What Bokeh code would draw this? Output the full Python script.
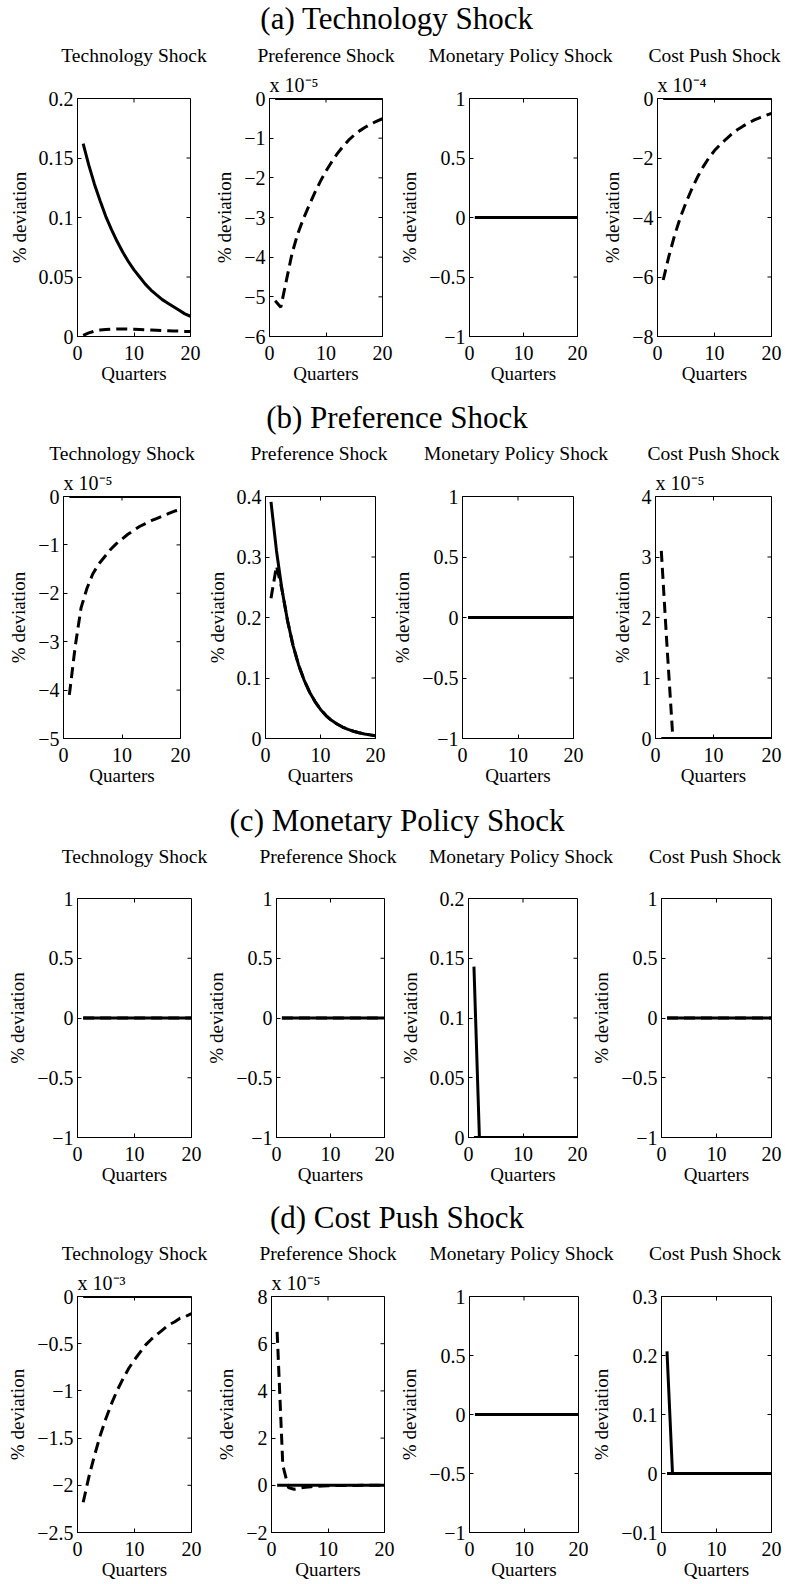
import math

from bokeh.plotting import figure
from bokeh.layouts import column, row
from bokeh.models import Range1d, FixedTicker, CustomJSTickFormatter, Label
from bokeh.embed import file_html
from bokeh.resources import INLINE

# ---------------------------------------------------------------- data
QUARTERS = [1, 2, 3, 4, 5, 6, 7, 8, 9, 10, 11, 12, 13, 14, 15, 16, 17, 18, 19, 20]
X_TICKS = [0, 10, 20]

SHOCK_NAMES = ["Technology Shock", "Preference Shock", "Monetary Policy Shock", "Cost Push Shock"]
SECTION_TITLES = ["(a) Technology Shock", "(b) Preference Shock",
                  "(c) Monetary Policy Shock", "(d) Cost Push Shock"]

FLAT = [0.0, 0.0, 0.0, 0.0, 0.0, 0.0, 0.0, 0.0, 0.0, 0.0,
        0.0, 0.0, 0.0, 0.0, 0.0, 0.0, 0.0, 0.0, 0.0, 0.0]

# (a) responses to a technology shock
a_tech_solid = [0.162, 0.144, 0.128, 0.114, 0.101, 0.090, 0.080, 0.071, 0.063, 0.056,
                0.050, 0.044, 0.039, 0.035, 0.031, 0.028, 0.025, 0.022, 0.019, 0.017]
a_tech_dashed = [0.0010, 0.0030, 0.0045, 0.0054, 0.0059, 0.0062, 0.0063, 0.0063, 0.0062, 0.0061,
                 0.0059, 0.0057, 0.0055, 0.0053, 0.0051, 0.0049, 0.0047, 0.0045, 0.0043, 0.0041]
a_pref_solid = FLAT
a_pref_dashed = [-5.10e-5, -5.26e-5, -4.58e-5, -3.90e-5, -3.41e-5, -3.03e-5, -2.70e-5, -2.38e-5,
                 -2.09e-5, -1.83e-5, -1.60e-5, -1.39e-5, -1.21e-5, -1.05e-5, -0.92e-5, -0.81e-5,
                 -0.72e-5, -0.64e-5, -0.57e-5, -0.51e-5]
a_mon_solid = FLAT
a_mon_dashed = FLAT
a_cost_solid = FLAT
a_cost_dashed = [-6.10e-4, -5.30e-4, -4.60e-4, -4.00e-4, -3.50e-4, -3.05e-4, -2.65e-4, -2.30e-4,
                 -2.00e-4, -1.75e-4, -1.55e-4, -1.37e-4, -1.20e-4, -1.05e-4, -0.93e-4, -0.82e-4,
                 -0.72e-4, -0.64e-4, -0.57e-4, -0.50e-4]

# (b) responses to a preference shock
b_tech_solid = FLAT
b_tech_dashed = [-4.10e-5, -3.10e-5, -2.30e-5, -1.90e-5, -1.60e-5, -1.40e-5, -1.25e-5, -1.10e-5,
                 -0.98e-5, -0.88e-5, -0.78e-5, -0.70e-5, -0.62e-5, -0.56e-5, -0.50e-5, -0.45e-5,
                 -0.40e-5, -0.35e-5, -0.30e-5, -0.27e-5]
b_pref_solid = [0.391, 0.310, 0.246, 0.195, 0.154, 0.122, 0.097, 0.077, 0.061, 0.048,
                0.038, 0.030, 0.024, 0.019, 0.015, 0.012, 0.0095, 0.0075, 0.0060, 0.0045]
b_pref_dashed = [0.232, 0.285, 0.246, 0.195, 0.154, 0.122, 0.097, 0.077, 0.061, 0.048,
                 0.038, 0.030, 0.024, 0.019, 0.015, 0.012, 0.0095, 0.0075, 0.0060, 0.0045]
b_mon_solid = FLAT
b_mon_dashed = FLAT
b_cost_solid = FLAT
b_cost_dashed = [3.10e-5, 1.50e-5, 0.0, 0.0, 0.0, 0.0, 0.0, 0.0, 0.0, 0.0,
                 0.0, 0.0, 0.0, 0.0, 0.0, 0.0, 0.0, 0.0, 0.0, 0.0]

# (c) responses to a monetary policy shock
c_tech_solid = FLAT
c_tech_dashed = FLAT
c_pref_solid = FLAT
c_pref_dashed = FLAT
c_mon_solid = [0.143, 0.0, 0.0, 0.0, 0.0, 0.0, 0.0, 0.0, 0.0, 0.0,
               0.0, 0.0, 0.0, 0.0, 0.0, 0.0, 0.0, 0.0, 0.0, 0.0]
c_mon_dashed = FLAT
c_cost_solid = FLAT
c_cost_dashed = FLAT

# (d) responses to a cost push shock
d_tech_solid = FLAT
d_tech_dashed = [-2.18e-3, -1.91e-3, -1.68e-3, -1.47e-3, -1.29e-3, -1.13e-3, -0.99e-3, -0.87e-3,
                 -0.76e-3, -0.67e-3, -0.59e-3, -0.51e-3, -0.45e-3, -0.40e-3, -0.35e-3, -0.30e-3,
                 -0.27e-3, -0.23e-3, -0.21e-3, -0.18e-3]
d_pref_solid = FLAT
d_pref_dashed = [6.50e-5, 0.85e-5, -0.10e-5, -0.17e-5, -0.12e-5, -0.08e-5, -0.06e-5, -0.04e-5,
                 -0.03e-5, -0.02e-5, -0.015e-5, -0.01e-5, -0.01e-5, -0.005e-5, -0.005e-5, 0.0,
                 0.0, 0.0, 0.0, 0.0]
d_mon_solid = FLAT
d_mon_dashed = FLAT
d_cost_solid = [0.207, 0.0, 0.0, 0.0, 0.0, 0.0, 0.0, 0.0, 0.0, 0.0,
                0.0, 0.0, 0.0, 0.0, 0.0, 0.0, 0.0, 0.0, 0.0, 0.0]
d_cost_dashed = FLAT

# y tick values (first and last give the axis limits) and the power of ten
# printed above each axis
UNIT_TICKS = [-1.0, -0.5, 0.0, 0.5, 1.0]
a_tech_yticks = [0.0, 0.05, 0.1, 0.15, 0.2]
a_pref_yticks = [-6e-5, -5e-5, -4e-5, -3e-5, -2e-5, -1e-5, 0.0]
a_cost_yticks = [-8e-4, -6e-4, -4e-4, -2e-4, 0.0]
b_tech_yticks = [-5e-5, -4e-5, -3e-5, -2e-5, -1e-5, 0.0]
b_pref_yticks = [0.0, 0.1, 0.2, 0.3, 0.4]
b_cost_yticks = [0.0, 1e-5, 2e-5, 3e-5, 4e-5]
c_mon_yticks = [0.0, 0.05, 0.1, 0.15, 0.2]
d_tech_yticks = [-2.5e-3, -2e-3, -1.5e-3, -1e-3, -0.5e-3, 0.0]
d_pref_yticks = [-2e-5, 0.0, 2e-5, 4e-5, 6e-5, 8e-5]
d_cost_yticks = [-0.1, 0.0, 0.1, 0.2, 0.3]

PANELS = [
    [(a_tech_solid, a_tech_dashed, a_tech_yticks, 0),
     (a_pref_solid, a_pref_dashed, a_pref_yticks, -5),
     (a_mon_solid, a_mon_dashed, UNIT_TICKS, 0),
     (a_cost_solid, a_cost_dashed, a_cost_yticks, -4)],
    [(b_tech_solid, b_tech_dashed, b_tech_yticks, -5),
     (b_pref_solid, b_pref_dashed, b_pref_yticks, 0),
     (b_mon_solid, b_mon_dashed, UNIT_TICKS, 0),
     (b_cost_solid, b_cost_dashed, b_cost_yticks, -5)],
    [(c_tech_solid, c_tech_dashed, UNIT_TICKS, 0),
     (c_pref_solid, c_pref_dashed, UNIT_TICKS, 0),
     (c_mon_solid, c_mon_dashed, c_mon_yticks, 0),
     (c_cost_solid, c_cost_dashed, UNIT_TICKS, 0)],
    [(d_tech_solid, d_tech_dashed, d_tech_yticks, -3),
     (d_pref_solid, d_pref_dashed, d_pref_yticks, -5),
     (d_mon_solid, d_mon_dashed, UNIT_TICKS, 0),
     (d_cost_solid, d_cost_dashed, d_cost_yticks, 0)],
]

# ---------------------------------------------------------------- layout
PAGE_W = 785
# per row: column boundaries, frame edges, heading block (height, title and
# subplot-title centres from its top) and the panel borders / frame height
ROW_GEOM = [
    dict(bounds=[0, 204, 396, 597, 785], left=[77, 269, 463, 657], right=[190, 382, 577, 771],
         head=69, head_title=18, head_sub=55, top=28, frame=239, bottom=58),
    dict(bounds=[0, 203, 389, 597, 785], left=[63, 262, 458, 655], right=[180, 375, 573, 771],
         head=73, head_title=23, head_sub=59, top=28, frame=243, bottom=58),
    dict(bounds=[0, 203, 396, 588, 785], left=[77, 271, 464, 658], right=[191, 384, 577, 771],
         head=74, head_title=24, head_sub=60, top=28, frame=239, bottom=58),
    dict(bounds=[0, 203, 396, 588, 785], left=[77, 271, 464, 658], right=[191, 384, 578, 771],
         head=72, head_title=22, head_sub=58, top=27, frame=238, bottom=52),
]

SERIF = "Liberation Serif"
TICK_FS = "20px"
LABEL_FS = "19px"
MINUS = "\u2212"
SUPERSCRIPT = {"-": "\u207b", "0": "\u2070", "1": "\u00b9", "2": "\u00b2", "3": "\u00b3",
               "4": "\u2074", "5": "\u2075", "6": "\u2076", "7": "\u2077", "8": "\u2078",
               "9": "\u2079"}

FMT_CODE = (
    "const v = Math.round(tick * k * 1e6) / 1e6;\n"
    "return v < 0 ? '" + MINUS + "' + String(-v) : String(v);"
)


def style_axis(ax, ticks):
    ax.ticker = FixedTicker(ticks=ticks)
    ax.major_tick_in = 4
    ax.major_tick_out = 0
    ax.major_tick_line_color = "black"
    ax.major_tick_line_width = 1
    ax.minor_tick_line_color = None
    ax.axis_line_color = "black"
    ax.axis_line_width = 1
    ax.major_label_text_font = SERIF
    ax.major_label_text_font_size = TICK_FS
    ax.major_label_text_color = "black"
    ax.major_label_standoff = 4
    ax.axis_label_text_font = SERIF
    ax.axis_label_text_font_size = LABEL_FS
    ax.axis_label_text_font_style = "normal"
    ax.axis_label_text_color = "black"


def make_panel(solid, dashed, yticks, exp, width, height, bl, br, bt, bb):
    ylo, yhi = yticks[0], yticks[-1]
    p = figure(width=width, height=height,
               x_range=Range1d(0, 20), y_range=Range1d(ylo, yhi),
               toolbar_location=None, output_backend="svg",
               min_border_left=bl, min_border_right=br,
               min_border_top=bt, min_border_bottom=bb,
               x_axis_label="Quarters", y_axis_label="% deviation")
    p.grid.visible = False
    p.background_fill_color = "white"
    p.border_fill_color = "white"
    p.outline_line_color = "black"
    p.outline_line_width = 1
    p.outline_line_alpha = 1

    bottom = p.below[0]
    left = p.left[0]
    style_axis(bottom, X_TICKS)
    bottom.major_label_standoff = 9
    bottom.axis_label_standoff = 0
    style_axis(left, yticks)
    left.axis_label_standoff = 6
    left.formatter = CustomJSTickFormatter(args=dict(k=10.0 ** (-exp)), code=FMT_CODE)

    # inward ticks along the top and right edges of the box
    p.ray(x=X_TICKS, y=[yhi] * len(X_TICKS), length=4, length_units="screen",
          angle=-math.pi / 2, line_color="black", line_width=1)
    p.ray(x=[20] * len(yticks), y=yticks, length=4, length_units="screen",
          angle=math.pi, line_color="black", line_width=1)

    p.line(QUARTERS, solid, line_color="black", line_width=3)
    p.line(QUARTERS, dashed, line_color="black", line_width=3, line_dash="11 6")

    # common scale factor written above the y axis
    if exp != 0:
        p.title.text = "x 10" + "".join(SUPERSCRIPT[ch] for ch in str(exp))
        p.title.text_font = SERIF
        p.title.text_font_size = "20px"
        p.title.text_font_style = "normal"
        p.title.text_color = "black"
        p.title.align = "left"
        p.title.standoff = 5
    return p


def make_heading(title, names, centres, g):
    h = figure(width=PAGE_W, height=g["head"],
               x_range=Range1d(0, PAGE_W), y_range=Range1d(g["head"], 0),
               toolbar_location=None, output_backend="svg", min_border=0,
               x_axis_type=None, y_axis_type=None)
    h.grid.visible = False
    h.outline_line_color = None
    h.background_fill_color = "white"
    h.border_fill_color = "white"
    h.add_layout(Label(x=PAGE_W / 2, y=g["head_title"], x_offset=4, text=title,
                       text_font=SERIF, text_font_size="31px", text_color="black",
                       text_align="center", text_baseline="middle"))
    for name, cx in zip(names, centres):
        h.add_layout(Label(x=cx, y=g["head_sub"], text=name,
                           text_font=SERIF, text_font_size="19.5px", text_color="black",
                           text_align="center", text_baseline="middle"))
    return h


blocks = []
for title, panels, g in zip(SECTION_TITLES, PANELS, ROW_GEOM):
    centres = [(l + r) / 2 for l, r in zip(g["left"], g["right"])]
    blocks.append(make_heading(title, SHOCK_NAMES, centres, g))
    figs = []
    for c, (solid, dashed, yticks, exp) in enumerate(panels):
        x0, x1 = g["bounds"][c], g["bounds"][c + 1]
        figs.append(make_panel(solid, dashed, yticks, exp,
                               width=x1 - x0, height=g["top"] + g["frame"] + g["bottom"],
                               bl=g["left"][c] - x0, br=x1 - g["right"][c],
                               bt=g["top"], bb=g["bottom"]))
    blocks.append(row(figs, spacing=0))

page = column(blocks, spacing=0)
open("out.html", "w").write(file_html(page, INLINE))
